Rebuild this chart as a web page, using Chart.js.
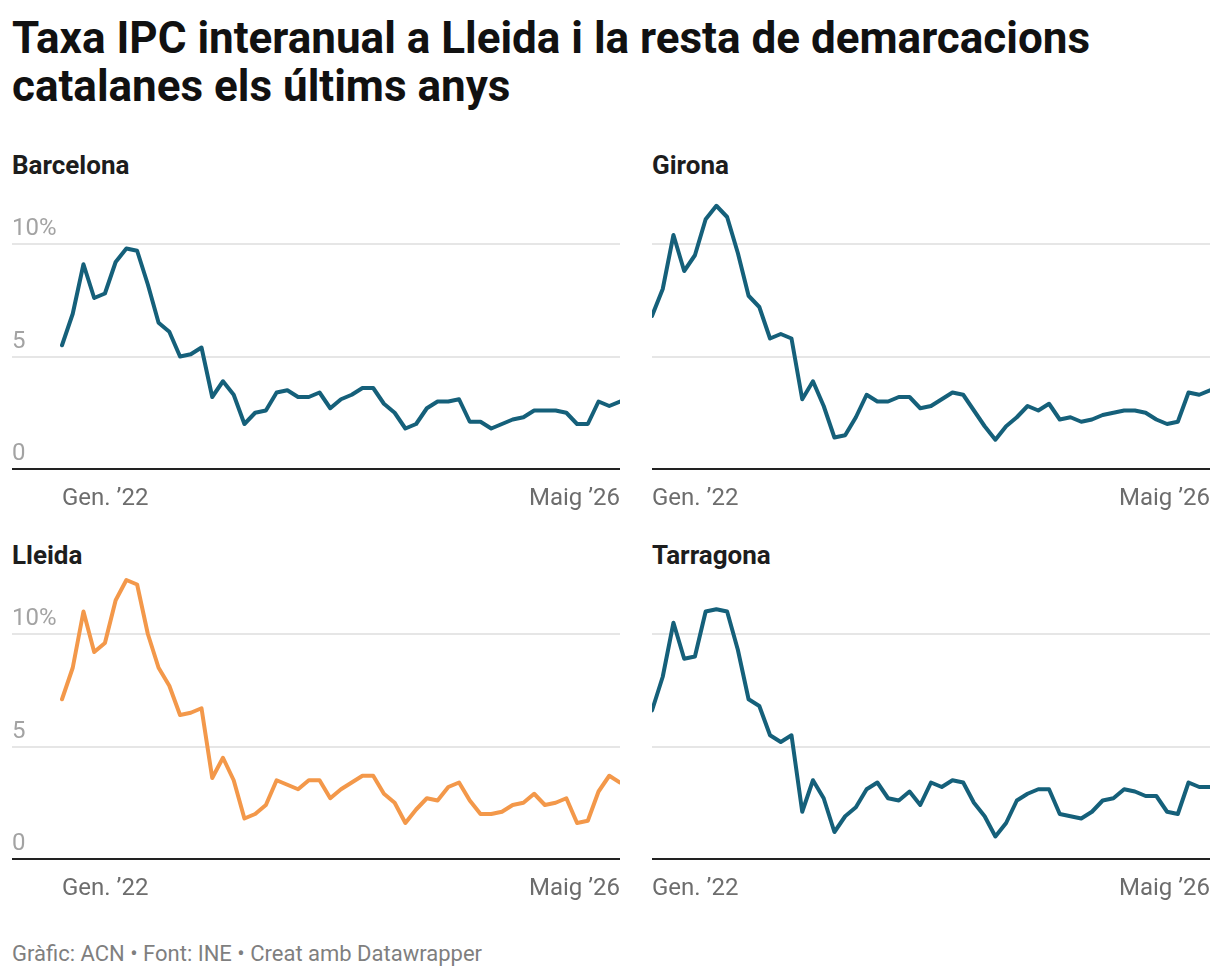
<!DOCTYPE html>
<html>
<head>
<meta charset="utf-8">
<script src="https://cdn.jsdelivr.net/npm/chart.js@4"></script>
<style>
  body { margin: 0; background: #fff; font-family: Roboto, sans-serif; }
  #wrap { position: relative; width: 1220px; height: 976px; overflow: hidden; }
  .title { position: absolute; left: 12px; top: 14px; font-size: 44px; line-height: 48px; font-weight: 700; color: #111; }
  .panel-title { position: absolute; font-size: 26px; line-height: 30px; font-weight: 700; color: #1d1d1d; }
  .box { position: absolute; }
  .box canvas { display: block; }
  .footer { position: absolute; left: 12px; top: 941px; font-size: 22px; line-height: 26px; color: #7f7f7f; }
</style>
</head>
<body>
<div id="wrap">
  <div class="title">Taxa IPC interanual a Lleida i la resta de demarcacions<br>catalanes els últims anys</div>

  <div class="panel-title" style="left:12px; top:150px;">Barcelona</div>
  <div class="panel-title" style="left:652px; top:150px;">Girona</div>
  <div class="panel-title" style="left:12px; top:540px;">Lleida</div>
  <div class="panel-title" style="left:652px; top:540px;">Tarragona</div>

  <div class="box" style="left:12px; top:181px;"><canvas id="bcn" width="608" height="334"></canvas></div>
  <div class="box" style="left:652px; top:181px;"><canvas id="gir" width="558" height="334"></canvas></div>
  <div class="box" style="left:12px; top:571px;"><canvas id="lle" width="608" height="334"></canvas></div>
  <div class="box" style="left:652px; top:571px;"><canvas id="tgn" width="558" height="334"></canvas></div>

  <div class="footer">Gràfic: ACN • Font: INE • Creat amb Datawrapper</div>
</div>

<script>
// monthly series, Jan 2022 .. May 2026 (53 months)
const barcelona = [5.5, 6.9, 9.1, 7.6, 7.8, 9.2, 9.8, 9.7, 8.2, 6.5, 6.1, 5.0, 5.1, 5.4, 3.2, 3.9, 3.3, 2.0, 2.5, 2.6,
  3.4, 3.5, 3.2, 3.2, 3.4, 2.7, 3.1, 3.3, 3.6, 3.6, 2.9, 2.5, 1.8, 2.0, 2.7, 3.0, 3.0, 3.1, 2.1, 2.1,
  1.8, 2.0, 2.2, 2.3, 2.6, 2.6, 2.6, 2.5, 2.0, 2.0, 3.0, 2.8, 3.0];
const girona = [6.8, 8.0, 10.4, 8.8, 9.5, 11.1, 11.7, 11.2, 9.6, 7.7, 7.2, 5.8, 6.0, 5.8, 3.1, 3.9, 2.8, 1.4, 1.5, 2.3,
  3.3, 3.0, 3.0, 3.2, 3.2, 2.7, 2.8, 3.1, 3.4, 3.3, 2.6, 1.9, 1.3, 1.9, 2.3, 2.8, 2.6, 2.9, 2.2, 2.3,
  2.1, 2.2, 2.4, 2.5, 2.6, 2.6, 2.5, 2.2, 2.0, 2.1, 3.4, 3.3, 3.5];
const lleida = [7.1, 8.5, 11.0, 9.2, 9.6, 11.5, 12.4, 12.2, 10.0, 8.5, 7.7, 6.4, 6.5, 6.7, 3.6, 4.5, 3.5, 1.8, 2.0, 2.4,
  3.5, 3.3, 3.1, 3.5, 3.5, 2.7, 3.1, 3.4, 3.7, 3.7, 2.9, 2.5, 1.6, 2.2, 2.7, 2.6, 3.2, 3.4, 2.6, 2.0,
  2.0, 2.1, 2.4, 2.5, 2.9, 2.4, 2.5, 2.7, 1.6, 1.7, 3.0, 3.7, 3.4];
const tarragona = [6.6, 8.1, 10.5, 8.9, 9.0, 11.0, 11.1, 11.0, 9.3, 7.1, 6.8, 5.5, 5.2, 5.5, 2.1, 3.5, 2.7, 1.2, 1.9, 2.3,
  3.1, 3.4, 2.7, 2.6, 3.0, 2.4, 3.4, 3.2, 3.5, 3.4, 2.5, 1.9, 1.0, 1.6, 2.6, 2.9, 3.1, 3.1, 2.0, 1.9,
  1.8, 2.1, 2.6, 2.7, 3.1, 3.0, 2.8, 2.8, 2.1, 2.0, 3.4, 3.2, 3.2];

const xTickIndex = [0, 52];
const xTickLabels = ["Gen. ’22", "Maig ’26"];
const yTicks = [0, 5, 10];
const yTickLabels = ["0", "5", "10%"];

const BLUE = "#15607a";
const ORANGE = "#f3984a";

Chart.defaults.font.family = "Roboto";

// drop the label padding chart.js adds around the plot area
function noPadding(s) {
    s.paddingLeft = 0;
    s.paddingRight = 0;
    s.paddingTop = 0;
    s.paddingBottom = 0;
}

function makeChart(id, values, color, withLabels) {
    const points = values.map((v, i) => ({ x: i, y: v }));

    const config = {
        type: "line",
        data: {
            datasets: [
                {
                    data: points,
                    borderColor: color,
                    borderWidth: 4,
                    pointRadius: 0,
                    pointHoverRadius: 0,
                    tension: 0,
                    borderJoinStyle: "round",
                    borderCapStyle: "round",
                },
            ],
        },
        options: {
            responsive: false,
            animation: false,
            layout: { padding: 0, autoPadding: false },
            plugins: { legend: { display: false }, tooltip: { enabled: false } },
            scales: {
                x: {
                    type: "linear",
                    // left panels leave room for the y labels
                    min: withLabels ? -4.66 : 0,
                    max: 52,
                    grid: { display: false, drawTicks: false },
                    border: { display: true, color: "#222", width: 2 },
                    afterBuildTicks: (s) => { s.ticks = xTickIndex.map((v) => ({ value: v })); },
                    afterFit: (s) => { s.height = 46; noPadding(s); },
                    ticks: {
                        align: "inner",
                        autoSkip: false,
                        maxRotation: 0,
                        padding: 16,
                        color: "#6d6d6d",
                        font: { size: 24 },
                        callback: (v, i) => xTickLabels[i],
                    },
                },
                y: {
                    min: 0,
                    max: 12.8,
                    afterBuildTicks: (s) => { s.ticks = yTicks.map((v) => ({ value: v })); },
                    afterFit: (s) => { s.width = 0; noPadding(s); },
                    border: { display: false },
                    grid: {
                        drawTicks: false,
                        lineWidth: 2,
                        color: (c) => (c.tick && c.tick.value === 0 ? "rgba(0,0,0,0)" : "#e6e6e6"),
                    },
                    ticks: {
                        display: withLabels,
                        mirror: true,
                        padding: 0,
                        labelOffset: -15,
                        color: "#a3a3a3",
                        font: { size: 24 },
                        callback: (v, i) => yTickLabels[i],
                    },
                },
            },
        },
    };

    return new Chart(document.getElementById(id), config);
}

makeChart("bcn", barcelona, BLUE, true);
makeChart("gir", girona, BLUE, false);
makeChart("lle", lleida, ORANGE, true);
makeChart("tgn", tarragona, BLUE, false);
</script>
</body>
</html>
